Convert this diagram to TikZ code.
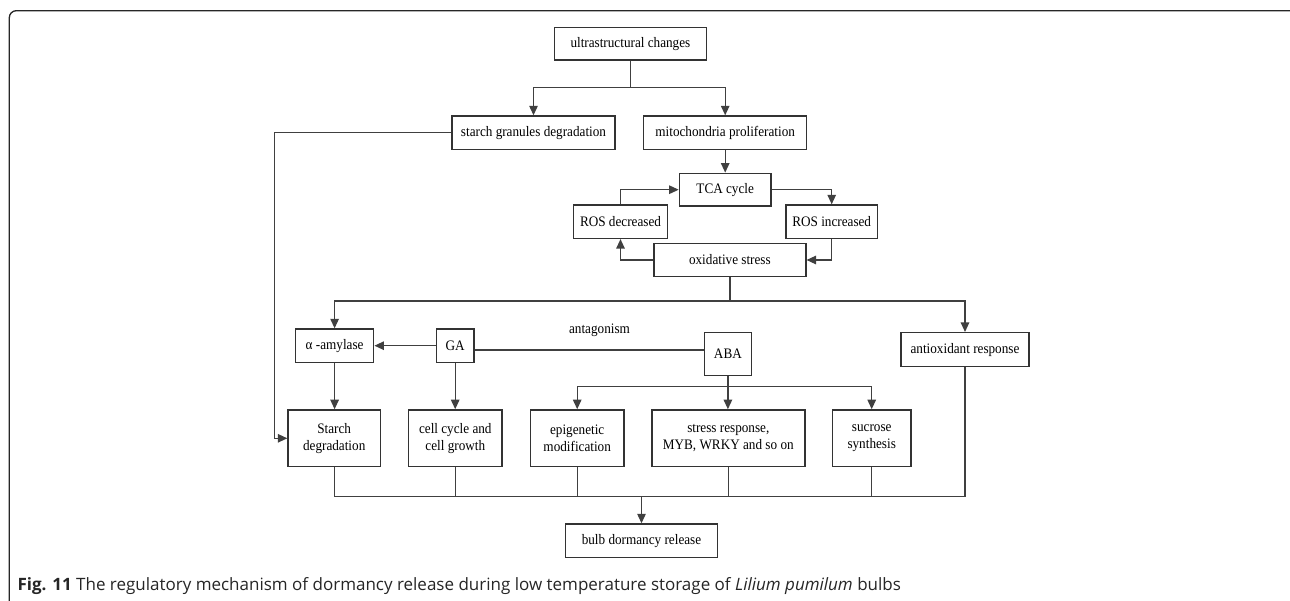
\documentclass[tikz,border=0pt]{standalone}
\usepackage{fontspec}
\setmainfont{Liberation Serif}
\newfontfamily\nodefont[FakeStretch=0.91]{Liberation Serif}
\newfontfamily\capfont{Open Sans}
\usetikzlibrary{arrows.meta}
\tikzset{
  box/.style={draw=black!80, line width=1.5pt, fill=white,
    font=\nodefont\fontsize{14.5}{16.7}\selectfont, text=black,
    align=center, inner sep=0pt},
  con/.style={draw=black!75, line width=1.2pt},
  arr/.style={con, -{Triangle[length=9.5pt,width=8.5pt]}},
  lbl/.style={font=\nodefont\fontsize{14.5}{16.7}\selectfont, text=black, inner sep=0pt},
  figcaption/.style={font=\capfont\fontsize{17}{20}\selectfont, text=black!85, inner sep=0pt, anchor=base west}
}
\begin{document}
\begin{tikzpicture}[x=1pt,y=-1pt]
\useasboundingbox (0,0) rectangle (1290,601);
\clip (0,0) rectangle (1290,601);
\fill[white] (0,0) rectangle (1290,601);
\draw[black!85, line width=1.3pt, rounded corners=7pt] (9.3,10.7) rectangle (1298,610);

% nodes
\node[box, minimum width=151.7pt, minimum height=32.7pt] (uc) at (630.4,43.7) {ultrastructural changes};
\node[box, minimum width=163.4pt, minimum height=33.3pt] (sg) at (533.5,132.7) {starch granules degradation};
\node[box, minimum width=163pt, minimum height=33.3pt] (mp) at (725.2,132.7) {mitochondria proliferation};
\node[box, minimum width=91.6pt, minimum height=32.7pt] (tca) at (725.2,189.7) {TCA cycle};
\node[box, minimum width=93.8pt, minimum height=33.3pt] (rd) at (620.5,221.7) {ROS decreased};
\node[box, minimum width=91.9pt, minimum height=33.3pt] (ri) at (831.7,221.7) {ROS increased};
\node[box, minimum width=151.8pt, minimum height=33.4pt] (ox) at (729.9,260) {oxidative stress};
\node[box, minimum width=78.2pt, minimum height=33.3pt] (am) at (334.6,345.7) {α -amylase};
\node[box, minimum width=37.9pt, minimum height=33.3pt] (ga) at (455.2,345.7) {GA};
\node[box, minimum width=46.9pt, minimum height=43pt] (aba) at (727.9,354.2) {ABA};
\node[box, minimum width=128pt, minimum height=34pt] (ao) at (965,349.7) {antioxidant response};
\node[box, minimum width=92.3pt, minimum height=56.7pt] (sd) at (334.2,438.3) {Starch\\degradation};
\node[box, minimum width=93.7pt, minimum height=56.7pt] (cc) at (455.3,438.3) {cell cycle and\\cell growth};
\node[box, minimum width=93.8pt, minimum height=56.7pt] (ep) at (577.2,438.3) {epigenetic\\modification};
\node[box, minimum width=153.1pt, minimum height=56.7pt] (sr) at (728.3,438.3) {stress response,\\MYB, WRKY and so on};
\node[box, minimum width=78.1pt, minimum height=56.7pt] (su) at (871.7,438.3) {sucrose\\synthesis};
\node[box, minimum width=151.8pt, minimum height=33.3pt] (bd) at (641.5,540.7) {bulb dormancy release};
\node[lbl] (ant) at (599.5,330) {antagonism};

% junction coordinates
\coordinate (j1) at (630.4,87.3);
\coordinate (lx) at (274.6,0);
\coordinate (j2) at (729.9,301);
\coordinate (gy) at (0,350);
\coordinate (j3) at (727.9,386.7);
\coordinate (yb) at (0,496.7);

% connectors
\draw[con] (uc.south) -- (j1);
\draw[arr] (j1) -| (sg.north);
\draw[arr] (j1) -| (mp.north);
\draw[arr] (mp) -- (tca);
\draw[arr] (sg.west) -- (sg.west -| lx) |- (sd.west);
\draw[arr] (rd.north) |- (tca.west);
\draw[arr] (tca.east) -| (ri.north);
\draw[arr] (ri.south) |- (ox.east);
\draw[arr] (ox.west) -| (rd.south);
\draw[con] (ox.south) -- (j2);
\draw[arr] (j2) -| (am.north);
\draw[arr] (j2) -| (ao.north);
\draw[arr] (ga.west) -- (am.east);
\draw[con] (ga.east |- gy) -- (aba.west |- gy);
\draw[arr] (am.south) -- (am.south |- sd.north);
\draw[arr] (ga.south) -- (ga.south |- cc.north);
\draw[con] (aba.south) -- (j3);
\draw[arr] (j3) -| (ep.north);
\draw[arr] (j3) -| (su.north);
\draw[arr] (j3) -- (j3 |- sr.north);
\draw[con] (sd.south) -- (sd.south |- yb) -- (ao.south |- yb) -- (ao.south);
\draw[con] (cc.south) -- (cc.south |- yb);
\draw[con] (ep.south) -- (ep.south |- yb);
\draw[con] (sr.south) -- (sr.south |- yb);
\draw[con] (su.south) -- (su.south |- yb);
\draw[arr] (bd.north |- yb) -- (bd.north);

% caption
\node[figcaption] (caption) at (17.3,590) {\textbf{Fig. 11} The regulatory mechanism of dormancy release during low temperature storage of \textit{Lilium pumilum} bulbs};
\end{tikzpicture}
\end{document}
